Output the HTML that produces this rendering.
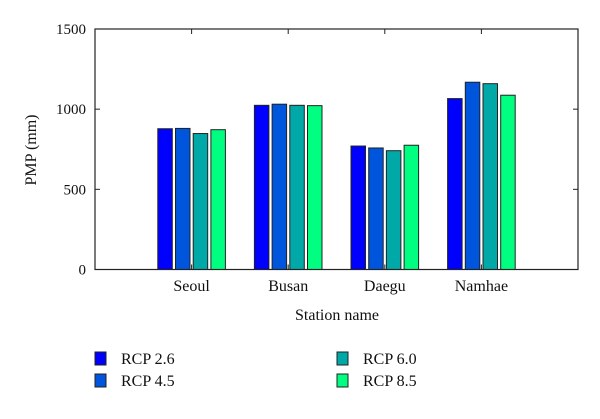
<!DOCTYPE html>
<html><head><meta charset="utf-8"><style>
body{margin:0;background:#fff}
svg text{font-family:"Liberation Serif",serif;fill:#111}
</style></head><body>
<svg width="600" height="414" xmlns="http://www.w3.org/2000/svg">
<g id="plot"></g>
<text x="337" y="320" font-size="16" text-anchor="middle">Station name</text>
<text transform="translate(36,150) rotate(-90)" font-size="16" text-anchor="middle">PMP (mm)</text>
<g>
<rect x="95" y="352" width="11" height="13" fill="#0000ff" stroke="#222"/>
<text x="121" y="364" font-size="16">RCP 2.6</text>
<rect x="95" y="374" width="11" height="13" fill="#0055dd" stroke="#222"/>
<text x="121" y="386" font-size="16">RCP 4.5</text>
<rect x="337" y="352" width="11" height="13" fill="#00a8a8" stroke="#222"/>
<text x="363" y="364" font-size="16">RCP 6.0</text>
<rect x="337" y="374" width="11" height="13" fill="#00ff80" stroke="#222"/>
<text x="363" y="386" font-size="16">RCP 8.5</text>
</g>
</svg>
<script>
const categories = ["Seoul","Busan","Daegu","Namhae"];
const rcp26 = [878,1024,770,1066];
const rcp45 = [880,1031,758,1168];
const rcp60 = [848,1024,741,1159];
const rcp85 = [872,1022,775,1087];
const yTicks = [0,500,1000,1500];
const seriesNames = ["rcp26","rcp45","rcp60","rcp85"];
const colors = ["#0000ff","#0055dd","#00a8a8","#00ff80"];

const L=95,R=578,T=29,B=269.5;
const xs=i=>L+(i+1)*(R-L)/5;
const ys=v=>B-(v/1500)*(B-T);
const NS="http://www.w3.org/2000/svg";
const g=document.getElementById('plot');
function mk(tag,attrs){const e=document.createElementNS(NS,tag);for(const k in attrs)e.setAttribute(k,attrs[k]);g.appendChild(e);return e;}
const series=[rcp26,rcp45,rcp60,rcp85];
const step=17.7,bw=14.5;
series.forEach((s,si)=>{
  s.forEach((v,ci)=>{
    const cx=xs(ci)+(si-1.5)*step;
    const r=mk('rect',{x:cx-bw/2,y:ys(v),width:bw,height:ys(0)-ys(v),fill:colors[si],stroke:'#222','stroke-width':1});
    
    
  });
});
const f=mk('rect',{x:L,y:T,width:R-L,height:B-T,fill:'none',stroke:'#222','stroke-width':1.2});


yTicks.forEach(t=>{
  const y=ys(t);
  mk('line',{x1:L,x2:L+5,y1:y,y2:y,stroke:'#222'});
  mk('line',{x1:R-5,x2:R,y1:y,y2:y,stroke:'#222'});
  const tx=mk('text',{x:L-9,y:y+5,'font-size':15,'text-anchor':'end'});
  tx.textContent=t;
  
  
});
categories.forEach((c,i)=>{
  const x=xs(i);
  mk('line',{x1:x,x2:x,y1:B,y2:B-5,stroke:'#222'});
  mk('line',{x1:x,x2:x,y1:T,y2:T+5,stroke:'#222'});
  const tx=mk('text',{x:x,y:291,'font-size':16,'text-anchor':'middle'});
  tx.textContent=c;
  
  
});
</script>
</body></html>
